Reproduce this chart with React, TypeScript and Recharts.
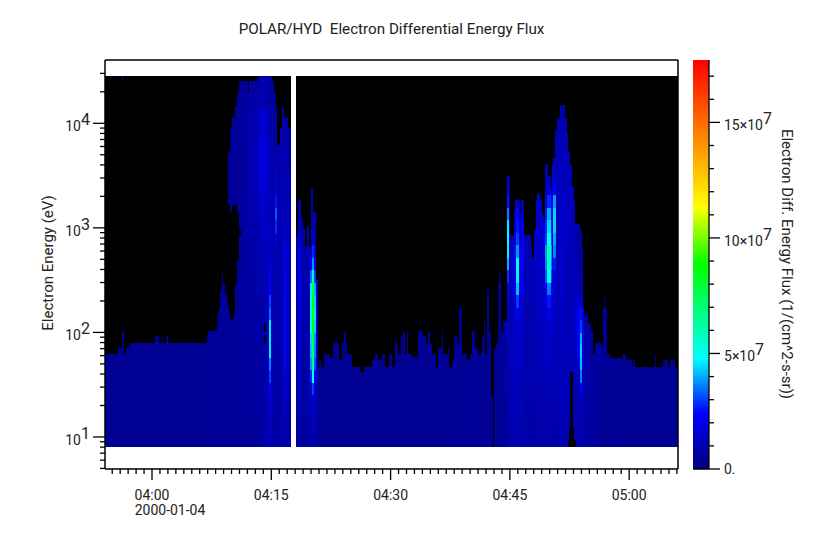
import React from "react";
import { Bar, BarChart, XAxis, YAxis } from "recharts";

// minutes after 04:00 -> top of the filled spectrum in eV, each run lasts until the next one
const topRuns = [
  [-5.875, 62], [-4.25, 71], [-3.75, 103], [-3.5, 62], [-3.25, 71], [-2.75, 79], [0.375, 92], [0.875, 79],
  [1.25, 92], [1.375, 79], [1.75, 92], [2, 79], [6.875, 92], [7, 103], [8.125, 125], [8.25, 165], [8.5, 253],
  [8.75, 378], [8.875, 295], [9.125, 226], [9.25, 250], [9.375, 194], [9.5, 5340], [9.75, 9000], [10, 11500],
  [10.375, 14700], [10.625, 19000], [10.875, 25300], [12, 19500], [12.125, 25300], [13.25, 28300], [15, 25300],
  [15.25, 19500], [15.5, 14700], [15.625, 6200], [16, 9000], [16.25, 14700], [16.5, 11500], [17, 9000], [17.375, 0],
  [18, 851], [18.25, 1845], [18.625, 1270], [18.875, 1000], [19.125, 650], [19.375, 1040], [19.625, 650],
  [19.875, 2400], [20.125, 1420], [20.5, 316], [20.75, 47], [20.875, 54], [21.125, 47], [21.5, 62], [22.25, 57],
  [22.625, 79], [23.375, 55], [23.75, 79], [24, 100], [24.25, 79], [24.375, 62], [25, 47], [26, 42], [26.5, 47],
  [27.5, 55], [27.875, 62], [28.25, 55], [28.75, 62], [29.125, 47], [29.625, 62], [30, 47], [30.375, 79],
  [30.75, 62], [31.125, 92], [31.375, 103], [31.625, 62], [31.875, 103], [32, 62], [32.5, 58], [33.25, 103],
  [33.875, 92], [34.25, 78], [34.5, 103], [34.75, 78], [35, 62], [35.5, 47], [35.75, 71], [36.25, 103],
  [36.375, 62], [37, 71], [37.125, 47], [37.5, 55], [37.75, 92], [38.125, 78], [38.375, 172], [38.75, 62],
  [39.375, 55], [39.75, 62], [40, 103], [40.375, 71], [40.75, 62], [41.25, 92], [41.5, 130], [41.625, 62],
  [41.875, 263], [42.125, 103], [42.375, 25], [42.625, 8], [42.75, 71], [43, 79], [43.25, 305], [43.375, 378],
  [43.5, 305], [43.625, 103], [43.875, 130], [44.375, 3125], [44.75, 850], [45.25, 1420], [45.375, 1845],
  [46, 1420], [46.125, 1845], [46.5, 850], [47.375, 650], [47.5, 510], [47.75, 950], [48, 1845], [48.125, 2150],
  [48.5, 1845], [48.75, 1420], [48.875, 1270], [49.125, 4080], [49.5, 3125], [49.875, 2400], [50, 4080],
  [50.125, 4650], [50.375, 8600], [50.625, 11200], [51, 15000], [51.625, 11200], [51.875, 8000], [52, 5300],
  [52.25, 4000], [52.5, 2500], [52.75, 1845], [52.875, 1100], [53.5, 950], [53.75, 650], [53.875, 177], [54, 145],
  [54.25, 155], [54.5, 122], [54.875, 103], [55.125, 62], [55.375, 79], [56.25, 71], [56.375, 172], [56.5, 218],
  [56.625, 172], [56.875, 62], [57.25, 57], [58.875, 62], [59.25, 55], [60, 47], [60.125, 55], [60.375, 47],
  [62.875, 61], [63, 47], [63.875, 55], [64.5, 47], [64.75, 55], [65.375, 47],
];

// quiet-time flux (1e6 units) used at every energy outside the three events
const baseFluxRuns = [
  [-5.875, 4], [-1, 3.8], [0.5, 4.3], [1.5, 3.8], [3, 4], [5, 3.8], [6.5, 4.3], [8.5, 5], [10, 4.5], [21, 4.2],
  [22, 3.8], [23, 4.3], [24, 3.8], [25.5, 3.5], [27, 4], [28.5, 3.6], [30, 4.2], [31, 3.8], [32.5, 4.3], [34, 3.8],
  [35, 3.5], [36, 4.1], [37.5, 4.6], [38.5, 4], [40, 4.8], [41, 4], [42, 3.6], [43, 4.6], [56, 4.6], [58, 4.2],
  [60, 4], [63, 3.8],
];

const bandEdges = [
  8, 10.8, 14.5, 19, 25, 33, 43.5, 57, 75, 99, 131, 172, 227, 299, 394, 519, 683, 900, 1185, 1560, 2056, 2710, 3567,
  4960, 6900, 9600, 13400, 19500, 28300,
];

// [start minute, flux per energy band low to high, 1e6 units]
// short rows give one value per two neighbouring bands, long rows one per band
const morningEvent = [
  [7.5, 5, 5, 5, 5, 5, 5, 5, 5, 5, 5, 5, 5, 5, 5],
  [11, 5, 5, 6, 6, 6, 6, 6, 6, 6, 6, 6, 6, 6, 6],
  [11.875, 5, 6, 6, 6, 7, 7, 7, 8, 8, 9, 10, 10, 9, 7],
  [13.25, 6, 7, 7, 7, 8, 8, 9, 10, 12, 14, 17, 18, 15, 9],
  [14, 8, 8, 9, 9, 9, 9, 10, 10, 12, 13, 16, 17, 14, 8],
  [14.5, 10, 11, 12, 13, 14, 14, 14, 13, 12, 11, 10, 10, 9, 7],
  [14.625, 11, 12, 13, 16, 22, 30, 36, 46, 46, 46, 34, 30, 22, 22, 16, 14, 12, 12, 11, 11, 10, 10, 10, 10, 9, 9, 7, 7],
  [14.875, 9, 10, 12, 12, 12, 12, 12, 11, 11, 10, 10, 9, 8, 6],
  [15, 7, 8, 8, 8, 9, 9, 9, 9, 9, 9, 8, 8, 7, 6],
  [15.375, 8, 8, 8, 8, 9, 9, 9, 9, 10, 10, 10, 10, 11, 11, 12, 12, 16, 28, 32, 26, 16, 14, 10, 9, 7, 7, 6, 6],
  [15.625, 7, 7, 8, 8, 8, 8, 8, 9, 9, 9, 9, 8, 8, 6],
  [16, 7, 7, 8, 8, 8, 8, 9, 9, 9, 10, 10, 10, 9, 6],
  [16.375, 9, 12, 16, 20, 22, 22, 20, 18, 14, 11, 10, 9, 8, 6],
  [16.875, 7, 8, 8, 9, 9, 9, 10, 10, 10, 10, 9, 8, 7, 6],
];

const noonEvent = [
  [18, 6, 7, 7, 8, 8, 8, 9, 8, 7, 7, 6, 6, 6, 6],
  [18.25, 8, 10, 12, 14, 16, 18, 20, 20, 12, 8, 7, 6, 6, 6],
  [18.625, 6, 7, 7, 8, 8, 9, 9, 8, 7, 7, 6, 6, 6, 6],
  [19.125, 7, 8, 8, 8, 9, 9, 10, 9, 8, 7, 6, 6, 6, 6],
  [19.75, 8, 9, 10, 11, 16, 28, 38, 42, 44, 52, 54, 52, 46, 34, 22, 16, 10, 8, 7, 7, 6, 6, 6, 6, 6, 6, 6, 6],
  [20, 9, 10, 12, 18, 30, 50, 68, 70, 75, 88, 90, 88, 80, 58, 38, 28, 16, 12, 9, 8, 7, 7, 6, 6, 6, 6, 6, 6],
  [20.25, 8, 9, 10, 10, 14, 24, 32, 36, 38, 44, 46, 44, 40, 30, 20, 14, 10, 8, 7, 7, 6, 6, 6, 6, 6, 6, 6, 6],
  [20.5, 7, 8, 9, 10, 12, 12, 12, 10, 8, 7, 6, 6, 6, 6],
  [20.75, 6, 6, 5, 5, 5, 5, 5, 5, 5, 5, 5, 5, 5, 5],
];

const lateEvent = [
  [44.125, 6, 6, 7, 7, 7, 7, 7, 7, 7, 7, 7, 7, 7, 7],
  [44.375, 8, 8, 8, 9, 9, 10, 10, 11, 12, 12, 13, 14, 22, 28, 40, 46, 48, 46, 36, 26, 16, 12, 9, 8, 8, 8, 6, 6],
  [44.625, 9, 9, 9, 10, 10, 10, 10, 9, 8, 8, 8, 8, 8, 6],
  [45.125, 10, 11, 12, 13, 14, 16, 20, 20, 14, 10, 8, 8, 8, 6],
  [45.375, 10, 11, 12, 13, 14, 16, 24, 26, 18, 12, 9, 8, 8, 6],
  [45.5, 8, 9, 10, 10, 11, 12, 13, 14, 15, 16, 20, 30, 42, 50, 50, 38, 30, 26, 24, 16, 10, 9, 8, 8, 8, 8, 6, 6],
  [45.875, 10, 11, 11, 12, 13, 14, 18, 18, 12, 9, 8, 8, 8, 6],
  [46.125, 9, 10, 11, 12, 13, 16, 22, 24, 20, 10, 8, 8, 8, 6],
  [46.5, 8, 8, 9, 9, 9, 9, 10, 10, 9, 8, 8, 8, 8, 6],
  [47.75, 8, 9, 10, 10, 11, 12, 13, 14, 15, 14, 8, 8, 8, 6],
  [48.5, 9, 9, 10, 11, 12, 13, 14, 15, 15, 14, 8, 8, 8, 6],
  [49.125, 8, 9, 9, 9, 10, 10, 11, 12, 12, 13, 14, 18, 24, 32, 36, 38, 30, 28, 26, 20, 12, 10, 9, 8, 8, 8, 7, 6],
  [49.375, 9, 9, 10, 10, 11, 12, 13, 14, 15, 16, 20, 26, 36, 50, 58, 60, 48, 44, 40, 28, 16, 12, 10, 9, 8, 8, 7, 6],
  [49.875, 8, 9, 9, 9, 10, 10, 11, 12, 12, 13, 14, 18, 24, 32, 36, 38, 30, 28, 26, 20, 12, 10, 9, 8, 8, 8, 7, 6],
  [50, 8, 9, 10, 11, 12, 14, 16, 18, 20, 18, 14, 10, 8, 6],
  [50.125, 8, 8, 9, 9, 10, 10, 11, 11, 12, 12, 13, 13, 14, 18, 26, 36, 40, 44, 44, 38, 24, 18, 10, 10, 8, 8, 6, 6],
  [50.5, 8, 9, 10, 10, 10, 10, 11, 11, 11, 11, 10, 10, 8, 6],
  [51.125, 12, 13, 13, 14, 15, 16, 18, 19, 18, 17, 16, 14, 11, 8],
  [51.375, 9, 10, 11, 11, 11, 11, 11, 11, 12, 12, 11, 10, 9, 7],
  [52.875, 9, 10, 11, 12, 15, 15, 12, 9, 8, 7, 7, 7, 7, 7],
  [53.125, 8, 8, 9, 9, 10, 11, 14, 22, 22, 22, 22, 14, 10, 8, 8, 8, 7, 7, 7, 7, 7, 7, 7, 7, 7, 7, 7, 7],
  [53.5, 9, 10, 11, 12, 22, 36, 42, 44, 40, 30, 26, 16, 10, 8, 8, 8, 7, 7, 7, 7, 7, 7, 7, 7, 7, 7, 7, 7],
  [53.75, 8, 10, 12, 16, 17, 14, 9, 8, 7, 7, 7, 7, 7, 7],
  [54, 7, 8, 8, 8, 8, 8, 7, 7, 7, 7, 7, 7, 7, 7],
  [54.75, 6, 6, 6, 6, 6, 6, 6, 6, 6, 6, 6, 6, 6, 6],
];

const eventWindows = [
  { from: 7.5, to: 17.375, rows: morningEvent },
  { from: 18, to: 21, rows: noonEvent },
  { from: 44.125, to: 56, rows: lateEvent },
];

// zero-flux patches inside the filled area: [from minute, to minute, low eV, high eV]
const holesA = [
  [9.5, 9.75, 165, 1650], [9.75, 10, 134, 1420], [10, 10.25, 134, 1650], [10.25, 10.46, 155, 1650],
  [10.46, 10.625, 295, 1650], [10.625, 10.875, 490, 1384], [10.875, 11.125, 850, 950],
  [14, 14.25, 100, 122], [52.25, 52.625, 8, 42],
];
const holesB = [[14, 14.25, 79, 94], [52.19, 52.75, 8, 12]];
const holesC = [[52, 53, 8, 9.3]];
const holeLayers = [holesA, holesB, holesC];

const lonePatch = [-3.75, -3.625, 25000, 28300, 9];

const minuteTicks = [
  -5, -4, -3, -2, -1, 0, 1, 2, 3, 4, 5, 6, 7, 8, 9, 10, 11, 12, 13, 14, 15, 16, 17, 18, 19, 20, 21, 22, 23, 24, 25,
  26, 27, 28, 29, 30, 31, 32, 33, 34, 35, 36, 37, 38, 39, 40, 41, 42, 43, 44, 45, 46, 47, 48, 49, 50, 51, 52, 53,
  54, 55, 56, 57, 58, 59, 60, 61, 62, 63, 64, 65, 66,
];
const majorMinutes = { 0: "04:00", 15: "04:15", 30: "04:30", 45: "04:45", 60: "05:00" };
const energyTicks = [
  5, 6, 7, 8, 9, 10, 20, 30, 40, 50, 60, 70, 80, 90, 100, 200, 300, 400, 500, 600, 700, 800, 900, 1000, 2000, 3000,
  4000, 5000, 6000, 7000, 8000, 9000, 10000, 20000, 30000,
];
const energyMajors = { 10: "1", 100: "2", 1000: "3", 10000: "4" };
const fluxTicks = [0, 1e7, 2e7, 3e7, 4e7, 5e7, 6e7, 7e7, 8e7, 9e7, 10e7, 11e7, 12e7, 13e7, 14e7, 15e7, 16e7, 17e7];
const fluxLabels = { 5e7: "5", 10e7: "10", 15e7: "15" };
const fluxMax = 17.7e7;

// [position on colour bar, r, g, b]
const colorStops = [
  [0, 0, 0, 127], [0.137, 0, 0, 255], [0.27, 0, 255, 255], [0.5, 0, 255, 0], [0.64, 255, 255, 0], [1, 255, 0, 0],
];

const fontFamily = "Roboto";
const timeDomain = [-5.91, 66.14];
const columnCount = 573;

const fluxColor = (fluxMillions: number) => {
  const p = Math.min(1, (fluxMillions * 1e6) / fluxMax);
  let i = 0;
  while (i < colorStops.length - 2 && p > colorStops[i + 1][0]) i++;
  const a = colorStops[i];
  const b = colorStops[i + 1];
  const f = (p - a[0]) / (b[0] - a[0]);
  const ch = (k: number) => Math.round(a[k] + (b[k] - a[k]) * f);
  return `rgb(${ch(1)},${ch(2)},${ch(3)})`;
};

const runValue = (runs: number[][], t: number) => {
  let v = runs[0][1];
  for (const r of runs) {
    if (r[0] <= t) v = r[1];
    else break;
  }
  return v;
};

const fluxAt = (t: number): number[] => {
  const win = eventWindows.find((w) => t >= w.from && t < w.to);
  if (win) {
    let row = win.rows[0];
    for (const r of win.rows) if (r[0] <= t) row = r;
    const vals = row.slice(1);
    return vals.length >= 28 ? vals : vals.flatMap((v) => [v, v]);
  }
  return bandEdges.slice(1).map(() => runValue(baseFluxRuns, t));
};

// one column per pixel of the time axis; the runs above were read at a nominal 8 px/min,
// the real axis is 7.953 px/min, so "read" is the column time on that reading scale
const columns = Array.from({ length: columnCount }, (_, i) => {
  const t = timeDomain[0] + ((timeDomain[1] - timeDomain[0]) * (i + 0.5)) / columnCount;
  const read = 0.0375 + 0.9941 * t;
  return { t, read, top: runValue(topRuns, read), flux: fluxAt(read) };
});

type Column = (typeof columns)[number];

const empty = [8, 8];

const cellShape = (fill: (c: Column) => string) => (props: any) => {
  if (!props.height || props.height <= 0) return <g />;
  return (
    <rect
      x={props.x}
      y={props.y}
      width={props.width}
      height={props.height}
      fill={fill(props.payload)}
      shapeRendering="crispEdges"
    />
  );
};

const holeRange = (list: number[][]) => (c: Column) => {
  if (!c.top) return empty;
  const h = list.find((r) => c.read >= r[0] && c.read < r[1]);
  return h ? [h[2], h[3]] : empty;
};

const TimeTick = (props: any) => {
  const { x, y, payload } = props;
  const label = majorMinutes[payload.value];
  return (
    <g>
      <line x1={x} x2={x} y1={y} y2={y + (label ? 11 : 5)} stroke="#000" strokeWidth={1.3} />
      {label && (
        <text x={x} y={y + 31} textAnchor="middle" fontSize={14} fontFamily={fontFamily} fill="#222">
          {label}
        </text>
      )}
    </g>
  );
};

const EnergyTick = (props: any) => {
  const { x, y, payload } = props;
  const exp = energyMajors[payload.value];
  return (
    <g>
      <line x1={x - (exp ? 12 : 5)} x2={x} y1={y} y2={y} stroke="#000" strokeWidth={1.3} />
      {exp && (
        <text x={x - 15} y={y + 8} textAnchor="end" fontSize={14} fontFamily={fontFamily} fill="#222">
          10<tspan dy={-6} fontSize={16}>{exp}</tspan>
        </text>
      )}
    </g>
  );
};

const FluxTick = (props: any) => {
  const { x, y, payload } = props;
  const lead = fluxLabels[payload.value];
  const major = lead || payload.value === 0;
  return (
    <g>
      <line x1={x} x2={x + (major ? 11 : 5)} y1={y} y2={y} stroke="#000" strokeWidth={1.3} />
      {lead && (
        <text x={x + 15} y={y + 8} fontSize={14} fontFamily={fontFamily} fill="#222">
          {lead}×10<tspan dy={-6} fontSize={16}>7</tspan>
        </text>
      )}
      {payload.value === 0 && (
        <text x={x + 15} y={y + 5} fontSize={14} fontFamily={fontFamily} fill="#222">
          0.
        </text>
      )}
    </g>
  );
};

const barData = [{ name: "flux", range: [0, fluxMax] }];

export default function App() {
  return (
    <div style={{ position: "relative", width: 828, height: 544, margin: -8, background: "#fff" }}>
      <div style={{ position: "absolute", left: 0, top: 0 }}>
        <BarChart
          width={680}
          height={544}
          data={columns}
          margin={{ top: 59, right: 1, bottom: 25, left: 45 }}
          barCategoryGap={0}
          barGap="-100%"
        >
          <XAxis
            dataKey="t"
            type="number"
            domain={timeDomain}
            ticks={minuteTicks}
            interval={0}
            height={50}
            tick={TimeTick}
            tickLine={false}
            tickSize={0}
            tickMargin={0}
            axisLine={{ stroke: "#000", strokeWidth: 1.5 }}
            allowDataOverflow
          />
          <XAxis
            xAxisId="frame"
            orientation="top"
            dataKey="t"
            type="number"
            domain={timeDomain}
            tick={false}
            height={1}
            axisLine={{ stroke: "#000", strokeWidth: 1.5 }}
          />
          <YAxis
            scale="log"
            domain={[4.94, 40300]}
            ticks={energyTicks}
            interval={0}
            width={60}
            tick={EnergyTick}
            tickLine={false}
            tickSize={0}
            tickMargin={0}
            axisLine={{ stroke: "#000", strokeWidth: 1.5 }}
            allowDataOverflow
          />
          <YAxis
            yAxisId="frame"
            orientation="right"
            scale="log"
            domain={[4.94, 40300]}
            tick={false}
            width={1}
            axisLine={{ stroke: "#000", strokeWidth: 1.5 }}
          />
          <Bar
            dataKey={(c: Column) => (c.top ? [8, 28300] : empty)}
            isAnimationActive={false}
            shape={cellShape(() => "#000")}
          />
          {bandEdges.slice(1).map((hi, b) => (
            <Bar
              key={hi}
              dataKey={(c: Column) => (c.top > bandEdges[b] ? [bandEdges[b], Math.min(hi, c.top)] : empty)}
              isAnimationActive={false}
              shape={cellShape((c) => fluxColor(c.flux[b]))}
            />
          ))}
          {holeLayers.map((list, i) => (
            <Bar key={i} dataKey={holeRange(list)} isAnimationActive={false} shape={cellShape(() => "#000")} />
          ))}
          <Bar
            dataKey={(c: Column) =>
              c.read >= lonePatch[0] && c.read < lonePatch[1] ? [lonePatch[2], lonePatch[3]] : empty
            }
            isAnimationActive={false}
            shape={cellShape(() => fluxColor(lonePatch[4]))}
          />
          <text x={391.5} y={34} textAnchor="middle" fontSize={15.2} fontFamily={fontFamily} fill="#222">
            POLAR/HYD{"\u00a0\u00a0"}Electron Differential Energy Flux
          </text>
          <text
            transform="translate(53,263) rotate(-90)"
            textAnchor="middle"
            fontSize={15}
            fontFamily={fontFamily}
            fill="#222"
          >
            Electron Energy (eV)
          </text>
          <text x={170} y={515} textAnchor="middle" fontSize={14} fontFamily={fontFamily} fill="#222">
            2000-01-04
          </text>
        </BarChart>
      </div>
      <div style={{ position: "absolute", left: 680, top: 0 }}>
        <BarChart
          width={130}
          height={544}
          data={barData}
          margin={{ top: 60, right: 0, bottom: 74, left: 13 }}
          barCategoryGap={0}
        >
          <defs>
            <linearGradient id="fluxRamp" x1="0" y1="1" x2="0" y2="0">
              {colorStops.map((s) => (
                <stop key={s[0]} offset={s[0]} stopColor={`rgb(${s[1]},${s[2]},${s[3]})`} />
              ))}
            </linearGradient>
          </defs>
          <XAxis dataKey="name" tick={false} height={1} axisLine={{ stroke: "#000", strokeWidth: 1.5 }} />
          <YAxis
            orientation="right"
            domain={[0, fluxMax]}
            ticks={fluxTicks}
            interval={0}
            width={101}
            tick={FluxTick}
            tickLine={false}
            tickSize={0}
            tickMargin={0}
            axisLine={{ stroke: "#000", strokeWidth: 1.3 }}
          />
          <Bar dataKey="range" fill="url(#fluxRamp)" isAnimationActive={false} />
          <text
            transform="translate(102,264) rotate(90)"
            textAnchor="middle"
            fontSize={15}
            fontFamily={fontFamily}
            fill="#222"
          >
            Electron Diff. Energy Flux (1/(cm^2-s-sr))
          </text>
        </BarChart>
      </div>
    </div>
  );
}
